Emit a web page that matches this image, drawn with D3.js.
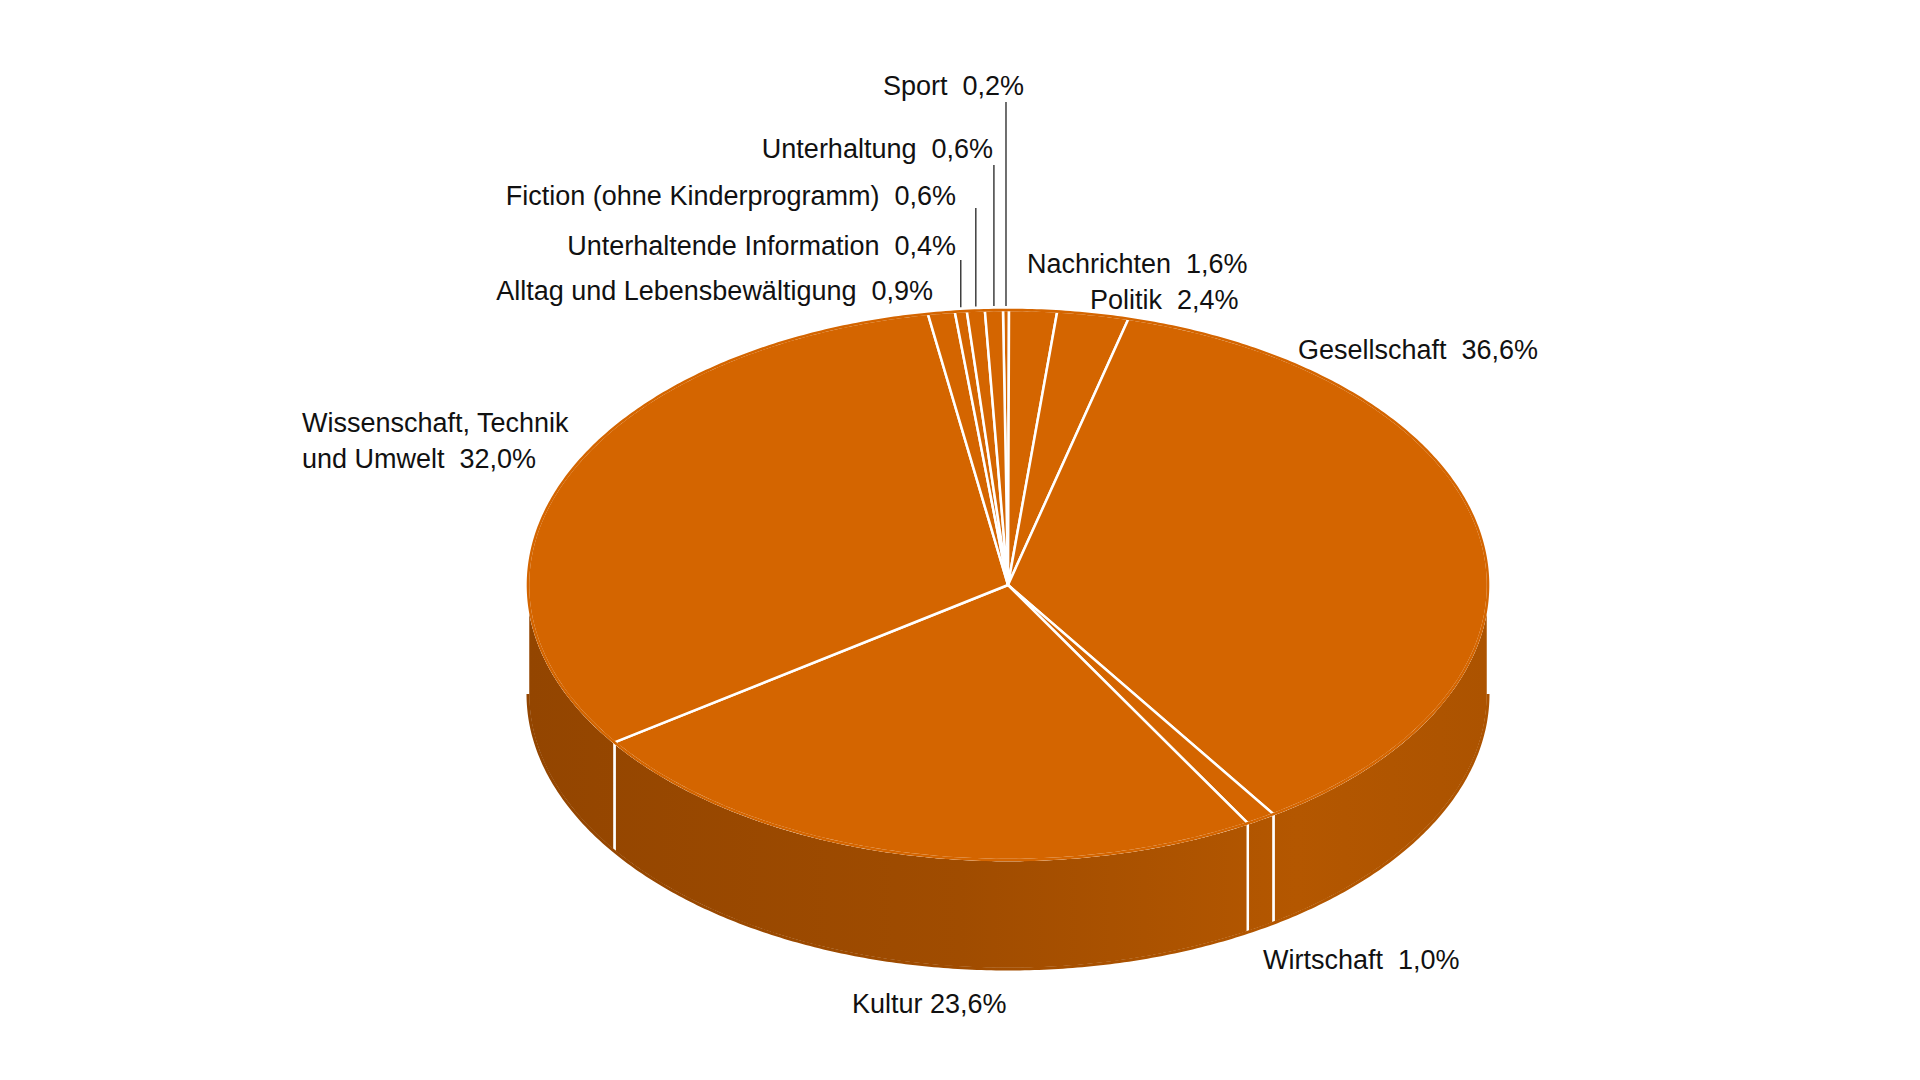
<!DOCTYPE html>
<html>
<head>
<meta charset="utf-8">
<script src="https://cdn.jsdelivr.net/npm/d3@7"></script>
<style>
  body { margin: 0; background: #fff; }
  text { font-family: "Liberation Sans", Arial, sans-serif; font-size: 27px; fill: #111; }
</style>
</head>
<body>
<svg width="1920" height="1080"></svg>
<script>
const categories = ["Sport", "Nachrichten", "Politik", "Gesellschaft", "Wirtschaft", "Kultur",
  "Wissenschaft, Technik und Umwelt", "Alltag und Lebensbewältigung", "Unterhaltende Information",
  "Fiction (ohne Kinderprogramm)", "Unterhaltung"];
const values = [0.2, 1.6, 2.4, 36.6, 1.0, 23.6, 32.0, 0.9, 0.4, 0.6, 0.6];
const labelLines = [
  ["Sport  0,2%"], ["Nachrichten  1,6%"], ["Politik  2,4%"], ["Gesellschaft  36,6%"],
  ["Wirtschaft  1,0%"], ["Kultur 23,6%"], ["Wissenschaft, Technik", "und Umwelt  32,0%"],
  ["Alltag und Lebensbewältigung  0,9%"], ["Unterhaltende Information  0,4%"],
  ["Fiction (ohne Kinderprogramm)  0,6%"], ["Unterhaltung  0,6%"]
];

const svg = d3.select("svg");
const cx = 1008, cy = 585, rx = 480, ry = 275, depth = 109;

// label placement: [x, y, anchor, leader line top y or null]
const labelPos = [
  [1024, 95, "end", 102], [1027, 273, "start", null], [1090, 309, "start", null],
  [1298, 359, "start", null], [1263, 969, "start", null], [852, 1013, "start", null],
  [302, 432, "start", null], [933, 300, "end", null], [956, 255, "end", 260],
  [956, 205, "end", 208], [993, 158, "end", 165]
];

const start = -0.6 * Math.PI / 180;
const pie = d3.pie().sort(null).startAngle(start).endAngle(start + 2 * Math.PI);
const arcs = pie(values);

const px = a => cx + rx * Math.sin(a);
const py = a => cy - ry * Math.cos(a);
const line = d3.line();

const sample = (a0, a1) => {
  const n = Math.max(2, Math.ceil((a1 - a0) / 0.01));
  return d3.range(n + 1).map(i => a0 + (a1 - a0) * i / n);
};

const defs = svg.append("defs");
const grad = defs.append("linearGradient").attr("id", "side")
  .attr("gradientUnits", "userSpaceOnUse")
  .attr("x1", cx - rx).attr("x2", cx + rx).attr("y1", 0).attr("y2", 0);
[[0, "#934500"], [0.45, "#a04c00"], [0.8, "#b45700"], [1, "#ac5300"]]
  .forEach(([o, c]) => grad.append("stop").attr("offset", o).attr("stop-color", c));

// side wall (front half only)
const sideG = svg.append("g");
arcs.forEach(d => {
  const a0 = Math.max(d.startAngle, Math.PI / 2);
  const a1 = Math.min(d.endAngle, 3 * Math.PI / 2);
  if (a1 <= a0) return;
  const angs = sample(a0, a1);
  const pts = angs.map(a => [px(a), py(a)])
    .concat(angs.slice().reverse().map(a => [px(a), py(a) + depth]));
  sideG.append("path").attr("d", line(pts) + "Z")
    .attr("fill", "url(#side)").attr("stroke", "#fff").attr("stroke-width", 2.5)
    .attr("stroke-linejoin", "round");
});
// mask outer edges of side wall so only slice separators are white
sideG.append("path")
  .attr("d", line(sample(Math.PI / 2, 3 * Math.PI / 2).map(a => [px(a), py(a) + depth])))
  .attr("fill", "none").attr("stroke", "url(#side)").attr("stroke-width", 3);

// top face
svg.append("g").selectAll("path").data(arcs).join("path")
  .attr("d", d => line([[cx, cy]].concat(sample(d.startAngle, d.endAngle).map(a => [px(a), py(a)]))) + "Z")
  .attr("fill", "#d46500").attr("stroke", "#fff").attr("stroke-width", 2.5)
  .attr("stroke-linejoin", "round");
// outer rim of top face without white
svg.append("path")
  .attr("d", line(sample(0, 2 * Math.PI).map(a => [px(a), py(a)])))
  .attr("fill", "none").attr("stroke", "#d46500").attr("stroke-width", 2.6);

// leader lines and labels
const lg = svg.append("g");
arcs.forEach((d, i) => {
  const [x, y, anchor, ly] = labelPos[i];
  if (ly !== null) {
    const m = (d.startAngle + d.endAngle) / 2;
    lg.append("line").attr("x1", px(m)).attr("x2", px(m))
      .attr("y1", ly).attr("y2", py(m) - 4)
      .attr("stroke", "#222").attr("stroke-width", 1.3);
  }
  const t = lg.append("text").attr("x", x).attr("y", y).attr("text-anchor", anchor)
    .attr("xml:space", "preserve");
  labelLines[i].forEach((s, j) => t.append("tspan").attr("x", x).attr("dy", j ? 36 : 0).text(s));
});
</script>
</body>
</html>
